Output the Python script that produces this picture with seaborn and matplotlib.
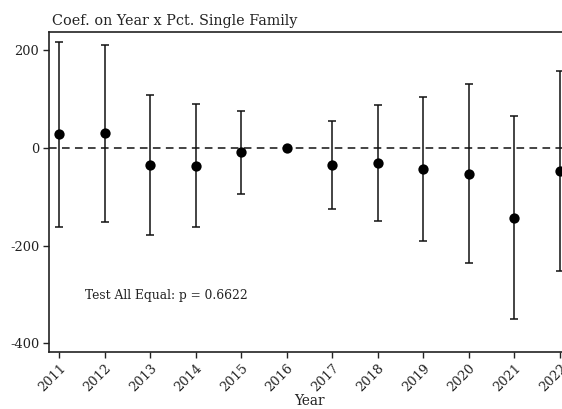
import matplotlib
matplotlib.use("Agg")
import matplotlib.pyplot as plt
import seaborn as sns
import pandas as pd

years = [2011, 2012, 2013, 2014, 2015, 2016, 2017, 2018, 2019, 2020, 2021, 2022]
coef = [28, 30, -35, -37, -9, 0, -35, -31, -43, -53, -143, -47]
upper = [217, 211, 108, 90, 76, 0, 55, 88, 104, 131, 65, 156]
lower = [-162, -152, -178, -162, -94, 0, -125, -150, -190, -235, -350, -252]
title = "Coef. on Year x Pct. Single Family"
note = "Test All Equal: p = 0.6622"

df = pd.DataFrame({"year": years, "coef": coef, "upper": upper, "lower": lower})

sns.set_style("ticks")
plt.rcParams["font.family"] = ["DejaVu Serif"]

W, H = 562, 409
fig = plt.figure(figsize=(W / 100, H / 100), dpi=100)
left, right, top, bottom = 49, 569, 32, 352
ax = fig.add_axes([left / W, 1 - bottom / H, (right - left) / W, (bottom - top) / H])

ax.axhline(0, color="#111111", lw=1.1, ls=(0, (5, 3.5)), zorder=1)
ax.errorbar(df["year"], df["coef"],
            yerr=[df["coef"] - df["lower"], df["upper"] - df["coef"]],
            fmt="none", ecolor="#111111", elinewidth=1.1, capsize=3, capthick=1.1, zorder=2)
sns.scatterplot(data=df, x="year", y="coef", ax=ax, color="black", s=55,
                edgecolor="black", linewidth=0, zorder=3, legend=False)

ax.set_xlim(2010.78, 2022.2)
ax.set_ylim(-417.8, 236.8)
ax.set_xticks(years)
ax.set_xticklabels([str(y) for y in years], rotation=45, ha="right",
                   rotation_mode="anchor", fontsize=9.3)
ax.set_yticks([-400, -200, 0, 200])
ax.set_yticklabels(["-400", "-200", "0", "200"], fontsize=9.3)
ax.tick_params(length=4, width=1, color="#222222", labelcolor="#222222", pad=3)
ax.set_xlabel("Year", fontsize=9.8, color="#222222", labelpad=0)
ax.set_ylabel("")
ax.set_title(title, loc="left", fontsize=10.4, color="#222222", pad=5, x=0.005)
ax.text(2011.57, -303, note, fontsize=8.8, color="#222222", va="center", ha="left")
for s in ax.spines.values():
    s.set_color("#222222")
    s.set_linewidth(1.2)

fig.savefig("out.png", dpi=100)
